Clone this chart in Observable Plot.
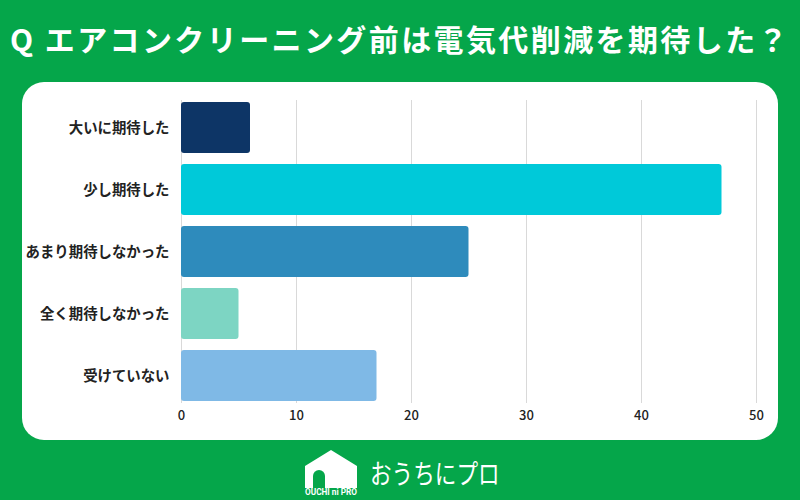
<!DOCTYPE html>
<html>
<head>
<meta charset="utf-8">
<script src="https://cdn.jsdelivr.net/npm/d3@7"></script>
<script src="https://cdn.jsdelivr.net/npm/@observablehq/plot@0.6"></script>
<style>
  html, body { margin: 0; padding: 0; }
  body { width: 800px; height: 500px; background: #05a64a; position: relative; overflow: hidden;
         font-family: "Noto Sans CJK JP", "Noto Sans", sans-serif; }
  #title { position: absolute; left: 0; top: 16px; width: 800px; text-align: center; color: #fff;
           font-size: 30px; font-weight: 700; letter-spacing: 2.4px; line-height: 44px; white-space: nowrap; }
  #panel { position: absolute; left: 22px; top: 82px; width: 756px; height: 358px; background: #fff;
           border-radius: 22px; overflow: hidden; }
  #logo { position: absolute; left: 304px; top: 448px; height: 48px; display: flex; align-items: center; }
  #logo .name { color: #fff; font-size: 27px; font-weight: 400; margin-left: 12px; letter-spacing: 0px;
                display: inline-block; transform: scaleX(0.8); transform-origin: left center;
                font-family: "Noto Sans CJK JP", sans-serif; }
</style>
</head>
<body>
<div id="title">Q エアコンクリーニング前は電気代削減を期待した？</div>
<div id="panel"></div>
<div id="logo">
  <svg width="54" height="48" viewBox="0 0 54 48">
    <path d="M1 18 L27 2 L53 18 L53 40 L1 40 Z" fill="#fff"/>
    <path d="M9 40 L9 28 A6 6 0 0 1 21 28 L21 40 Z" fill="#05a64a"/>
    <text x="27" y="47" text-anchor="middle" fill="#fff" font-size="8.5" font-weight="700"
          font-family="Roboto, sans-serif" textLength="52" lengthAdjust="spacingAndGlyphs">OUCHI ni PRO</text>
  </svg>
  <span class="name">おうちにプロ</span>
</div>
<script>
const categories = ["大いに期待した", "少し期待した", "あまり期待しなかった", "全く期待しなかった", "受けていない"];
const values = [6, 47, 25, 5, 17];
const colors = ["#0d3566", "#00c9d9", "#2e8bbc", "#7dd5c3", "#7fb9e6"];
const xTicks = [0, 10, 20, 30, 40, 50];

const data = categories.map((c, i) => ({category: c, value: values[i]}));

const chart = Plot.plot({
  width: 756,
  height: 358,
  marginLeft: 159,
  marginRight: 22,
  marginTop: 18,
  marginBottom: 37,
  style: {fontFamily: '"Noto Sans CJK JP", "Noto Sans", sans-serif', background: "transparent"},
  x: {domain: [0, 50], ticks: xTicks},
  y: {domain: categories, paddingInner: 0.17, paddingOuter: 0},
  color: {domain: categories, range: colors},
  marks: [
    Plot.gridX(xTicks, {stroke: "#d9d9d9", strokeOpacity: 1}),
    Plot.barX(data, {x: "value", y: "category", fill: "category", rx: 3}),
    Plot.axisX(xTicks, {tickSize: 0, tickPadding: 7, fontSize: 13, fontWeight: 500, fill: "#222", label: null}),
    Plot.axisY({tickSize: 0, tickPadding: 12, fontSize: 14.4, fontWeight: 700, fill: "#222", label: null})
  ]
});
document.getElementById("panel").appendChild(chart);
</script>
</body>
</html>
